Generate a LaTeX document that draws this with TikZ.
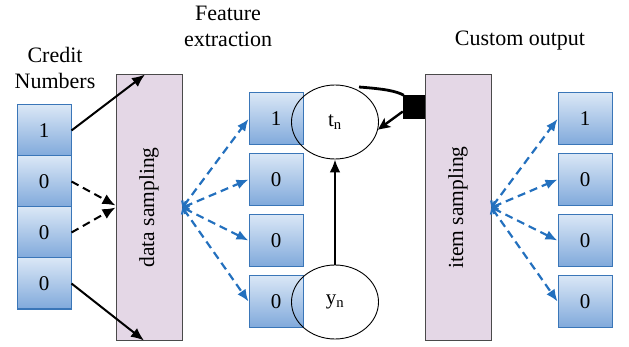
\documentclass[tikz,border=0pt]{standalone}
\usepackage{fontspec}
\setmainfont{Liberation Serif}
\usetikzlibrary{arrows.meta,shapes.geometric,calc}
\definecolor{boxtop}{HTML}{DAE7F6}
\definecolor{boxbot}{HTML}{80A9DB}
\definecolor{boxline}{HTML}{3A76B8}
\definecolor{arrblue}{HTML}{2370BE}
\definecolor{rectfill}{HTML}{E4D7E6}
\definecolor{rectline}{HTML}{4A4A4A}
\tikzset{
  numbox/.style={draw=boxline, line width=1pt, top color=boxtop, bottom color=boxbot,
    minimum width=54pt, minimum height=51pt, inner sep=0pt, font=\fontsize{21}{24}\selectfont},
  samplerect/.style={draw=rectline, line width=1pt, fill=rectfill, minimum width=66pt,
    minimum height=265pt, inner sep=0pt},
  rottext/.style={rotate=90, font=\fontsize{21.5}{24}\selectfont},
  label/.style={align=center, inner sep=0pt, font=\fontsize{22}{26}\selectfont},
  circ/.style={draw, ellipse, line width=0.9pt, minimum width=87pt, minimum height=74pt,
    inner sep=0pt, font=\fontsize{21}{24}\selectfont},
  blk/.style={line width=2pt, -{Latex[length=13pt,width=11pt]}},
  blkdash/.style={blk, dash pattern=on 8pt off 5pt},
  bluearr/.style={draw=arrblue, line width=2.2pt, dash pattern=on 8pt off 5pt,
    {Straight Barb[length=4pt,width=9pt]}-{Latex[length=12pt,width=10pt]}, color=arrblue},
}
\begin{document}
\begin{tikzpicture}[x=1pt,y=-1pt]
\useasboundingbox (0,0) rectangle (629,347);
% labels
\node[label] (lcredit) at (55,68) {Credit\\Numbers};
\node[label] (lfeat) at (228,26) {Feature\\extraction};
\node[label] (lcust) at (520,41) {Custom output};
% left column
\node[numbox] (c1) at (44,130.5) {1};
\node[numbox] (c2) at (44,181.5) {0};
\node[numbox] (c3) at (44,232.5) {0};
\node[numbox] (c4) at (44,283.5) {0};
% sampling rectangles
\node[samplerect] (ds) at (149,207.5) {};
\node[rottext] (dst) at (ds.center) {data sampling};
\node[samplerect] (is) at (458,207.5) {};
\node[rottext] (ist) at (is.center) {item sampling};
% middle column
\node[numbox, minimum height=52pt] (m1) at (276,119) {1};
\node[numbox, minimum height=52pt] (m2) at (276,179.5) {0};
\node[numbox, minimum height=52pt] (m3) at (276,240.5) {0};
\node[numbox, minimum height=52pt] (m4) at (276,301.5) {0};
% right column
\node[numbox, minimum height=52pt] (r1) at (585,119) {1};
\node[numbox, minimum height=52pt] (r2) at (585,179.5) {0};
\node[numbox, minimum height=52pt] (r3) at (585,240.5) {0};
\node[numbox, minimum height=52pt] (r4) at (585,301.5) {0};
% ellipses
\node[circ] (tn) at (335,122) {t\textsubscript{n}};
\node[circ] (yn) at (335,302) {y\textsubscript{n}};
% black square
\node[fill=black, minimum width=22pt, minimum height=24pt, inner sep=0pt] (sq) at (414,107.5) {};
% left arrows
\draw[blk] (c1.east) -- ([xshift=-4pt]ds.north);
\draw[blk] (c4.east) -- ([xshift=-5pt]ds.south);
\draw[blkdash] (c2.east) -- ([yshift=2pt]ds.west);
\draw[blkdash] (c3.east) -- ([yshift=0pt]ds.west);
% blue arrows
\foreach \t in {m1,m2,m3,m4} \draw[bluearr] (ds.east) -- (\t.west);
\foreach \t in {r1,r2,r3,r4} \draw[bluearr] (is.east) -- (\t.west);
% yn -> tn
\draw[line width=2.4pt, -{Latex[length=13pt,width=11pt]}] (yn.north) -- (tn.south);
% curve to square and arrow to tn
\coordinate (cs) at (359,87);
\draw[line width=2.8pt] (cs) .. controls (385,89) and (396,91) .. ([xshift=1pt]sq.north west);
\draw[line width=2.4pt, -{Stealth[length=12pt,width=11pt,inset=3pt]}] ([yshift=-4pt]sq.west) -- (tn.350);
\end{tikzpicture}
\end{document}
